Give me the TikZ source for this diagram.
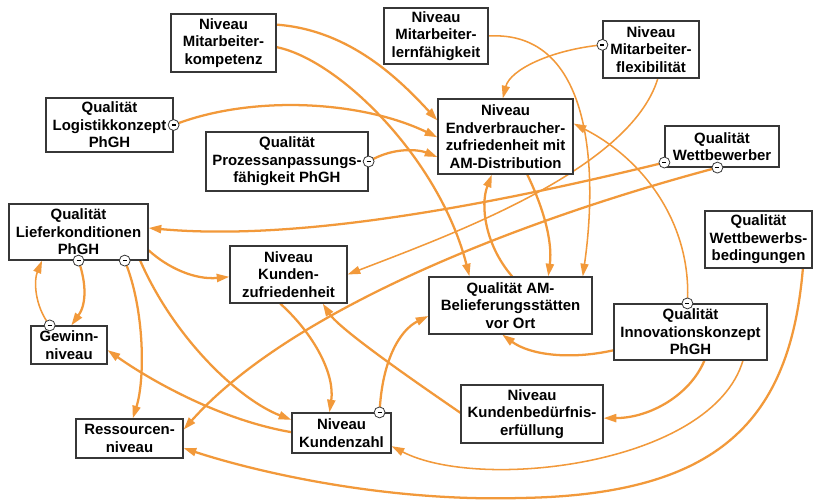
\documentclass[tikz,border=0pt]{standalone}
\usepackage{fontspec}
\setmainfont{Liberation Sans}
\usetikzlibrary{arrows.meta,calc}
\definecolor{acol}{RGB}{242,153,58}
\definecolor{bcol}{RGB}{55,55,55}
\pgfdeclarelayer{bg}
\pgfdeclarelayer{edges}
\pgfsetlayers{bg,edges,main}
\begin{document}
\begin{tikzpicture}[x=0.75pt,y=-0.75pt,
  box/.style={draw=bcol, line width=0.9pt, fill=white, align=center, inner sep=0pt,
    font=\fontsize{11.2}{13.1}\selectfont\bfseries},
  neg/.style={circle, draw=bcol, line width=0.6pt, fill=white, minimum size=8.2pt, inner sep=0pt},
  arr/.style={draw=acol, line width=1.7pt, -{Triangle[length=9.5pt,width=6pt]}},
  arrt/.style={arr, line width=1.15pt}]
\useasboundingbox (0,0) rectangle (813,502);
\begin{pgfonlayer}{bg}
\fill[white] (0,0) rectangle (813,502);
\end{pgfonlayer}

% boxes
\node[box, minimum width=78.75pt, minimum height=43.5pt] (MK) at (223.5,43) {Niveau\\Mitarbeiter-\\kompetenz};
\node[box, minimum width=78pt, minimum height=42pt] (ML) at (436,36) {Niveau\\Mitarbeiter-\\lernfähigkeit};
\node[box, minimum width=72pt, minimum height=42.75pt] (MF) at (651,49.5) {Niveau\\Mitarbeiter-\\flexibilität};
\node[box, minimum width=95.25pt, minimum height=40.5pt] (QL) at (109.5,125) {Qualität\\Logistikkonzept\\PhGH};
\node[box, minimum width=121.5pt, minimum height=44.25pt] (QP) at (287,161.5) {Qualität\\Prozessanpassungs-\\fähigkeit PhGH};
\node[box, minimum width=101.25pt, minimum height=56.25pt] (NE) at (505.5,136.5) {Niveau\\Endverbraucher-\\zufriedenheit mit\\AM-Distribution};
\node[box, minimum width=85.5pt, minimum height=30.75pt] (QW) at (722,146.5) {Qualität\\Wettbewerber};
\node[box, minimum width=104.25pt, minimum height=42pt] (QLK) at (78.5,232) {Qualität\\Lieferkonditionen\\PhGH};
\node[box, minimum width=87.75pt, minimum height=42.75pt] (NKZ) at (288.5,274.5) {Niveau\\Kunden-\\zufriedenheit};
\node[box, minimum width=122.25pt, minimum height=42.75pt] (QAM) at (510.5,305.5) {Qualität AM-\\Belieferungsstätten\\vor Ort};
\node[box, minimum width=80.25pt, minimum height=42.75pt] (QWB) at (758.5,239.5) {Qualität\\Wettbewerbs-\\bedingungen};
\node[box, minimum width=114.75pt, minimum height=42pt] (QI) at (690.5,332) {Qualität\\Innovationskonzept\\PhGH};
\node[box, minimum width=57pt, minimum height=28.5pt] (GN) at (69,345) {Gewinn-\\niveau};
\node[box, minimum width=80.25pt, minimum height=29.25pt] (RN) at (129.5,438.5) {Ressourcen-\\niveau};
\node[box, minimum width=74.25pt, minimum height=30pt] (NKZahl) at (341.5,433) {Niveau\\Kundenzahl};
\node[box, minimum width=106.5pt, minimum height=43.5pt] (NKB) at (532,414) {Niveau\\Kundenbedürfnis-\\erfüllung};

% negative markers
\node[neg] (mQL) at (QL.east) {\rule{3pt}{1.1pt}};
\node[neg] (mQP) at (QP.east) {\rule{3pt}{1.1pt}};
\node[neg] (mMF) at ($(MF.north west)!.42!(MF.south west)$) {\rule{3pt}{1.1pt}};
\node[neg] (mQWa) at ($(QW.north west)!.88!(QW.south west)$) {\rule{3pt}{1.1pt}};
\node[neg] (mQWb) at ($(QW.south west)!.46!(QW.south east)$) {\rule{3pt}{1.1pt}};
\node[neg] (mQLKa) at ($(QLK.south west)!.50!(QLK.south east)$) {\rule{3pt}{1.1pt}};
\node[neg] (mQLKb) at ($(QLK.south west)!.83!(QLK.south east)$) {\rule{3pt}{1.1pt}};
\node[neg] (mGN) at ($(GN.north west)!.25!(GN.north east)$) {\rule{3pt}{1.1pt}};
\node[neg] (mNKZahl) at ($(NKZahl.north west)!.88!(NKZahl.north east)$) {\rule{3pt}{1.1pt}};
\node[neg] (mQI) at ($(QI.north west)!.48!(QI.north east)$) {\rule{3pt}{1.1pt}};

\begin{pgfonlayer}{edges}
% E1 MK -> NE
\draw[arr] ($(MK.north east)!.19!(MK.south east)$) .. controls (350,30) and (400,80) .. ($(NE.north west)!.29!(NE.south west)$);
% E2 MK -> QAM
\draw[arr] ($(MK.north east)!.57!(MK.south east)$) .. controls (340,60) and (440,160) .. ($(QAM.north west)!.25!(QAM.north east)$);
% E3 QL -> NE
\draw[arr] (mQL.center) .. controls (250,95) and (360,100) .. ($(NE.north west)!.51!(NE.south west)$);
% E4 QP -> NE
\draw[arr] (mQP.center) .. controls (395,146) and (420,150) .. ($(NE.north west)!.77!(NE.south west)$);
% E5 MF -> NE
\draw[arrt] (mMF.center) .. controls (550,50) and (510,70) .. ($(NE.north west)!.48!(NE.north east)$);
% E6 ML -> QAM
\draw[arrt] (ML.east) .. controls (592,30) and (598,170) .. ($(QAM.north west)!.94!(QAM.north east)$);
% E7 MF -> NKZ
\draw[arrt] ($(MF.south west)!.57!(MF.south east)$) .. controls (630,170) and (450,235) .. (NKZ.east);
% E8 QW -> QLK
\draw[arr] (mQWa.center) .. controls (450,215) and (280,240) .. ($(QLK.north east)!.43!(QLK.south east)$);
% E9 QW -> RN
\draw[arr] (mQWb.center) .. controls (520,220) and (290,310) .. ($(RN.north east)!.28!(RN.south east)$);
% E10 NE -> QAM
\draw[arr] ($(NE.south west)!.66!(NE.south east)$) .. controls (542,205) and (553,240) .. ($(QAM.north west)!.73!(QAM.north east)$);
% E11 QAM -> NE
\draw[arr] ($(QAM.north west)!.51!(QAM.north east)$) .. controls (485,245) and (480,205) .. ($(NE.south west)!.40!(NE.south east)$);
% E12 QI -> NE
\draw[arrt] (mQI.center) .. controls (692,225) and (645,160) .. ($(NE.north east)!.33!(NE.south east)$);
% E13 QI -> QAM
\draw[arr] ($(QI.north west)!.82!(QI.south west)$) .. controls (570,360) and (530,355) .. ($(QAM.south west)!.45!(QAM.south east)$);
% E14 QI -> NKB
\draw[arr] ($(QI.south west)!.59!(QI.south east)$) .. controls (690,395) and (650,418) .. ($(NKB.north east)!.57!(NKB.south east)$);
% E15 QI -> NKZahl
\draw[arrt] ($(QI.south west)!.84!(QI.south east)$) .. controls (712,465) and (480,492) .. ($(NKZahl.north east)!.82!(NKZahl.south east)$);
% E16 QWB -> RN
\draw[arr] ($(QWB.south west)!.91!(QWB.south east)$) .. controls (790,420) and (720,495) .. (520,498) .. controls (380,502) and (250,470) .. ($(RN.north east)!.74!(RN.south east)$);
% E17 NKB -> NKZ
\draw[arr] ($(NKB.north west)!.48!(NKB.south west)$) .. controls (420,385) and (340,330) .. ($(NKZ.south west)!.79!(NKZ.south east)$);
% E18 NKZahl -> QAM
\draw[arr] (mNKZahl.center) .. controls (382,360) and (400,330) .. ($(QAM.north west)!.68!(QAM.south west)$);
% E19 NKZ -> NKZahl
\draw[arr] ($(NKZ.south west)!.43!(NKZ.south east)$) .. controls (315,335) and (335,375) .. ($(NKZahl.north west)!.38!(NKZahl.north east)$);
% E20 QLK -> NKZ
\draw[arr] ($(QLK.north east)!.82!(QLK.south east)$) .. controls (168,268) and (195,280) .. ($(NKZ.north west)!.54!(NKZ.south west)$);
% E21 QLK -> NKZahl
\draw[arr] ($(QLK.south west)!.94!(QLK.south east)$) .. controls (175,340) and (240,400) .. ($(NKZahl.north west)!.18!(NKZahl.south west)$);
% E22 QLK -> RN
\draw[arr] (mQLKb.center) .. controls (145,310) and (145,380) .. ($(RN.north west)!.53!(RN.north east)$);
% E23 QLK -> GN
\draw[arr] (mQLKa.center) .. controls (87,285) and (86,305) .. ($(GN.north west)!.53!(GN.north east)$);
% E24 GN -> QLK
\draw[arrt] (mGN.center) .. controls (34,305) and (34,280) .. ($(QLK.south west)!.24!(QLK.south east)$);
% E25 NKZahl -> GN
\draw[arr] ($(NKZahl.north west)!.48!(NKZahl.south west)$) .. controls (220,420) and (150,380) .. ($(GN.north east)!.63!(GN.south east)$);
\end{pgfonlayer}
\end{tikzpicture}
\end{document}
